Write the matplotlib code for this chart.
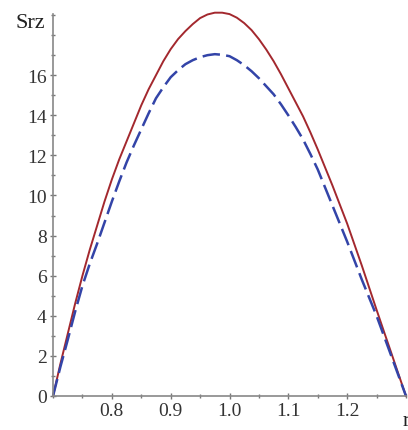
import matplotlib
matplotlib.use("Agg")
import matplotlib.pyplot as plt
import numpy as np
from matplotlib.ticker import MultipleLocator, FixedLocator

r = np.round(np.arange(0.7, 1.30001, 0.0125), 4)
srz_solid = [0, 1.6, 3.1, 4.6, 6.0, 7.3, 8.5, 9.7, 10.8, 11.8, 12.7, 13.6,
             14.5, 15.3, 16.0, 16.7, 17.3, 17.8, 18.2, 18.55, 18.85, 19.03, 19.12, 19.12,
             19.05, 18.87, 18.6, 18.25, 17.8, 17.28, 16.7, 16.05, 15.35, 14.65, 13.95, 13.15,
             12.3, 11.4, 10.5, 9.55, 8.6, 7.55, 6.5, 5.4, 4.3, 3.22, 2.15, 1.07, 0]
srz_dash = [0, 1.45, 2.8, 4.2, 5.5, 6.6, 7.6, 8.65, 9.7, 10.7, 11.65, 12.5,
            13.3, 14.1, 14.85, 15.4, 15.9, 16.25, 16.55, 16.75, 16.9, 17.0, 17.05, 17.02,
            16.95, 16.75, 16.5, 16.2, 15.85, 15.45, 15.05, 14.55, 14.0, 13.42, 12.8, 12.07,
            11.3, 10.4, 9.5, 8.6, 7.7, 6.75, 5.8, 4.9, 4.0, 3.0, 2.0, 1.0, 0]
x_ticks = [0.8, 0.9, 1.0, 1.1, 1.2]
x_ticklabels = ["0.8", "0.9", "1.0", "1.1", "1.2"]
y_ticks = [0, 2, 4, 6, 8, 10, 12, 14, 16]

plt.rcParams['font.family'] = ['Liberation Serif', 'DejaVu Serif']

fig = plt.figure(figsize=(4.08, 4.31), dpi=100)
ax = fig.add_axes([0.130, 0.079, 0.865, 0.886])

ax.plot(r, srz_solid, color="#a3282e", lw=1.4, clip_on=False)
ax.plot(r, srz_dash, color="#3344a8", lw=1.8, dashes=(7, 2.5), clip_on=False)

ax.set_xlim(0.7, 1.3)
ax.set_ylim(0, 19.05)

for s in ["top", "right"]:
    ax.spines[s].set_visible(False)
for s in ["left", "bottom"]:
    ax.spines[s].set_color("#888888")
    ax.spines[s].set_linewidth(1.2)

ax.xaxis.set_major_locator(FixedLocator(x_ticks))
ax.set_xticklabels(x_ticklabels)
ax.xaxis.set_minor_locator(MultipleLocator(0.05))
ax.yaxis.set_major_locator(FixedLocator(y_ticks))
ax.yaxis.set_minor_locator(MultipleLocator(1))
ax.tick_params(which="major", direction="inout", length=5, width=1, color="#777777",
               labelsize=14, labelcolor="#333333", pad=2)
ax.tick_params(which="minor", direction="inout", length=3, width=1, color="#777777")

ax.text(-0.022, 19.1, "Srz", ha="right", va="top", fontsize=16, color="#222222",
        transform=ax.get_yaxis_transform())
ax.text(1.3, -0.04, "r", ha="center", va="top", fontsize=15, color="#222222",
        transform=ax.get_xaxis_transform())

fig.savefig("out.png", dpi=100)
